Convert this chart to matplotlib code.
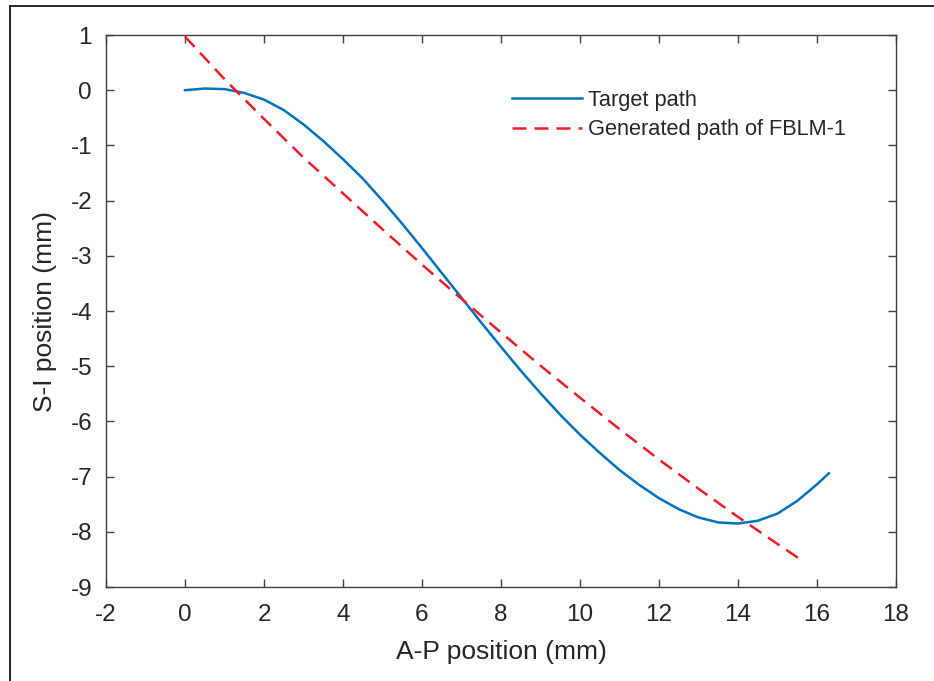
#!/usr/bin/env python3

import matplotlib
matplotlib.use('Agg')
import matplotlib.pyplot as plt
from matplotlib.lines import Line2D

# Target path (A-P, S-I) in mm
target_x = [0.0, 0.5, 1.0, 1.5, 2.0, 2.5, 3.0, 3.5, 4.0, 4.5, 5.0, 5.5, 6.0, 6.5,
            7.0, 7.5, 8.0, 8.5, 9.0, 9.5, 10.0, 10.5, 11.0, 11.5, 12.0, 12.5,
            13.0, 13.5, 14.0, 14.5, 15.0, 15.5, 16.0, 16.3]
target_y = [0.00, 0.03, 0.02, -0.05, -0.17, -0.36, -0.62, -0.92, -1.25, -1.60,
            -2.00, -2.42, -2.86, -3.31, -3.76, -4.21, -4.65, -5.08, -5.49, -5.88,
            -6.24, -6.57, -6.88, -7.15, -7.39, -7.59, -7.74, -7.83, -7.85, -7.80,
            -7.67, -7.44, -7.14, -6.94]

# Generated path of FBLM-1
gen_x = [0.0, 1.0, 2.0, 3.0, 4.0, 5.0, 6.0, 7.0, 8.0, 9.0, 10.0, 11.0, 12.0,
         13.0, 14.0, 15.0, 15.6]
gen_y = [0.97, 0.20, -0.52, -1.22, -1.87, -2.52, -3.16, -3.78, -4.39, -4.99,
         -5.57, -6.14, -6.69, -7.22, -7.73, -8.22, -8.51]

x_ticks = list(range(-2, 19, 2))
y_ticks = list(range(-9, 2))

TEXT = '#262626'
AXES = '#404040'


def main():
    plt.rcParams['font.family'] = ['Liberation Sans', 'DejaVu Sans']
    plt.rcParams['axes.unicode_minus'] = False
    fig = plt.figure(figsize=(9.34, 6.81), dpi=100)
    ax = fig.add_axes([0.1135, 0.138, 0.8458, 0.8106])

    ax.plot(target_x, target_y, color='#0072BD', lw=1.8, label='Target path',
            solid_joinstyle='round')
    ax.plot(gen_x, gen_y, color='#EE1C25', lw=1.8, dashes=(5.6, 3.2),
            label='Generated path of FBLM-1')

    ax.set_xlim(-2, 18)
    ax.set_ylim(-9, 1)
    ax.set_xticks(x_ticks)
    ax.set_yticks(y_ticks)
    ax.tick_params(direction='in', length=6, width=1, colors=AXES, labelcolor=TEXT,
                   labelsize=17.5, top=True, right=True)
    ax.tick_params(axis='x', pad=12)
    ax.tick_params(axis='y', pad=10)
    for sp in ax.spines.values():
        sp.set_color(AXES)
        sp.set_linewidth(1.0)

    ax.set_xlabel('A-P position (mm)', fontsize=19, color=TEXT, labelpad=10)
    ax.set_ylabel('S-I position (mm)', fontsize=19, color=TEXT, labelpad=10)

    leg = ax.legend(loc='upper left', bbox_to_anchor=(0.503, 0.917), frameon=False,
                    fontsize=15.7, handlelength=3.2, handletextpad=0.3,
                    labelspacing=0.4, borderaxespad=0)
    for t in leg.get_texts():
        t.set_color(TEXT)

    # screenshot frame
    fig.add_artist(Line2D([10 / 934, 1.0], [1 - 6 / 681, 1 - 6 / 681], color='black', lw=1.2))
    fig.add_artist(Line2D([10 / 934, 10 / 934], [0.0, 1 - 6 / 681], color='black', lw=1.2))

    fig.savefig('out.png', dpi=100)


if __name__ == '__main__':
    main()
